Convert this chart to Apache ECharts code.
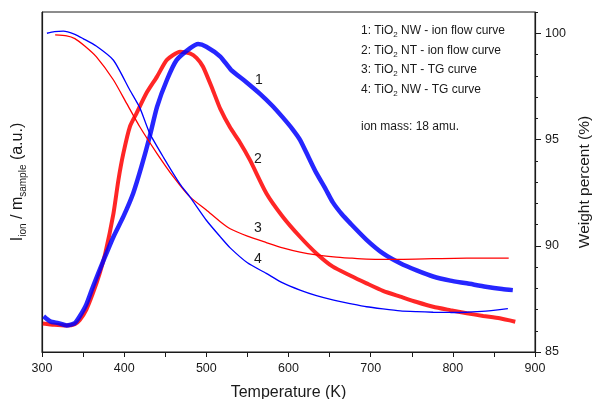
<!DOCTYPE html>
<html>
<head>
<meta charset="utf-8">
<script src="https://cdn.jsdelivr.net/npm/echarts@6/dist/echarts.min.js"></script>
<style>html,body{margin:0;padding:0;background:#fff}#c{width:592px;height:399px}</style>
</head>
<body>
<div id="c"></div>
<script>
// Ion flow curve 1: TiO2 NW (left axis, a.u.)
var tempIonNW = [302,310,320,330,340,346,354,362,375,387,399,411,421,431,440,452,464,480,490,500,517,530,548,565,580,593,605,614,625,634,645,654,665,675,695,715,736,756,776,797,817,840,860,873];
var ionNW     = [10.5,9,8.5,7.8,8.5,10.5,14,19.2,27,33.9,39.8,46.7,54.5,63.3,72.1,80,85.9,89.3,90.6,89.8,86.9,83,79.5,76,72.5,69,65.5,62.4,57,52.6,48,44,40.5,37.9,33,29,26.1,24,22.2,21,20.2,19.2,18.5,18.2];
// Ion flow curve 2: TiO2 NT (left axis, a.u.)
var tempIonNT = [301,315,330,340,346,354,362,370,377,387,393,399,407,415,427,440,452,468,480,488,496,508,517,529,540,553,573,593,614,634,654,675,695,715,736,756,776,797,817,837,857,876];
var ionNT     = [8.4,8,7.8,8.2,9.4,12.5,17.3,23,29,40.8,50.6,58.4,66.3,70.2,76.1,81,85.9,88.3,87.8,86.5,83.9,77,71.5,66,62,56.5,46.7,39.8,33.9,29,25.1,22.5,20.2,18,16.3,14.7,13.3,12.3,11.4,10.6,9.9,8.9];
// TG curve 3: TiO2 NT (right axis, %)
var tempTgNT = [316,330,340,352,366,387,403,419,440,460,480,500,517,529,550,573,593,614,634,655,675,695,736,776,817,868];
var tgNT     = [99.92,99.88,99.75,99.4,98.9,97.8,96.7,95.6,94.34,93.24,92.3,91.68,91.13,90.8,90.45,90.15,89.9,89.7,89.57,89.48,89.42,89.37,89.36,89.39,89.42,89.42];
// TG curve 4: TiO2 NW (right axis, %)
var tempTgNW = [306,315,326,340,350,366,387,407,419,431,448,468,480,500,517,529,550,573,593,614,634,655,675,695,715,736,756,776,797,817,840,867];
var tgNW     = [100.0,100.08,100.1,99.95,99.75,99.4,98.73,97.32,96.5,95.3,94.15,92.9,92.3,91.2,90.42,89.9,89.2,88.7,88.25,87.91,87.65,87.44,87.28,87.13,87.03,86.94,86.9,86.87,86.86,86.87,86.92,87.04];

var xTicks = [300,400,500,600,700,800,900];
var yRightMajor = [85,90,95,100];
var yRightMinor = [86,87,88,89,91,92,93,94,96,97,98,99,101];

var legendLines = [
  ['1: TiO','2',' NW - ion flow curve'],
  ['2: TiO','2',' NT - ion flow curve'],
  ['3: TiO','2',' NT - TG curve'],
  ['4: TiO','2',' NW - TG curve']
];
var ionMassText = 'ion mass: 18 amu.';
var curveLabels = ['1','2','3','4'];

function pairs(xs, ys){ return xs.map(function(x,i){ return [x, ys[i]]; }); }

var FONT = '"Liberation Sans", Arial, sans-serif';
var INK = '#1a1a1a';
var BLUE = '#0000ff';
var RED = '#ff0000';

var chart = echarts.init(document.getElementById('c'), null, {renderer:'canvas'});

var graphics = [];
var legendY = [33, 52.5, 72, 91.5];
legendLines.forEach(function(l, i){
  graphics.push({
    type:'text', left: 361, top: legendY[i] - 8, z: 100,
    style:{
      text: '{m|' + l[0] + '}{s|' + l[1] + '}{m|' + l[2] + '}',
      rich:{
        m:{fontSize:12, fontFamily:FONT, fill:INK, lineHeight:16, verticalAlign:'middle'},
        s:{fontSize:8, fontFamily:FONT, fill:INK, lineHeight:8, verticalAlign:'bottom'}
      }
    }
  });
});
graphics.push({type:'text', left:361, top:121, z:100, style:{text: ionMassText, fontSize:12, fontFamily:FONT, fill:INK}});
var lblPos = [[255,73],[254,152],[254,221],[254,252]];
curveLabels.forEach(function(t,i){
  graphics.push({type:'text', left: lblPos[i][0], top: lblPos[i][1], z:100, style:{text:t, fontSize:14, fontFamily:FONT, fill:INK}});
});

var option = {
  animation:false,
  backgroundColor:'#fff',
  grid:{left:42, right:57, top:12, bottom:47, show:true, borderColor:INK, borderWidth:1, outerBoundsMode:'none', containLabel:false},
  xAxis:{
    type:'value', min:300, max:900, interval:100,
    name:'Temperature (K)', nameLocation:'middle', nameGap:33,
    nameTextStyle:{fontSize:16, fontFamily:FONT, color:INK},
    axisLine:{show:true, lineStyle:{color:INK, width:1.2}},
    axisTick:{show:true, inside:false, length:5, lineStyle:{color:INK}},
    minorTick:{show:true, splitNumber:2, length:5, lineStyle:{color:INK}},
    axisLabel:{fontSize:12.5, fontFamily:FONT, color:INK, margin:10,
      customValues: xTicks},
    splitLine:{show:false}
  },
  yAxis:[
    {
      type:'value', min:0, max:100, position:'left',
      name:'{m|I}{s|ion}{m| / m}{s|sample}{m| (a.u.)}',
      nameLocation:'middle', nameRotate:90, nameGap:14,
      nameTextStyle:{
        rich:{
          m:{fontSize:16, fontFamily:FONT, color:INK, lineHeight:20, verticalAlign:'middle'},
          s:{fontSize:10, fontFamily:FONT, color:INK, lineHeight:10, verticalAlign:'bottom'}
        }
      },
      axisLine:{show:true, lineStyle:{color:INK, width:1.2}},
      axisTick:{show:false}, axisLabel:{show:false}, splitLine:{show:false}
    },
    {
      type:'value', min:85, max:101, position:'right',
      name:'Weight percent (%)', nameLocation:'middle', nameRotate:90, nameGap:40,
      nameTextStyle:{fontSize:15.5, fontFamily:FONT, color:INK},
      axisLine:{show:true, lineStyle:{color:INK, width:1.2}},
      axisTick:{show:true, length:6, customValues: yRightMajor, lineStyle:{color:INK}},
      axisLabel:{fontSize:12.5, fontFamily:FONT, color:INK, margin:10, customValues: yRightMajor},
      splitLine:{show:false}
    },
    {
      type:'value', min:85, max:101, position:'right',
      axisLine:{show:false},
      axisTick:{show:true, length:3, customValues: yRightMinor, lineStyle:{color:INK}},
      axisLabel:{show:false}, splitLine:{show:false}
    }
  ],
  series:[
    {type:'line', name:'2', yAxisIndex:0, data:pairs(tempIonNT, ionNT), showSymbol:false, smooth:0.2,
      lineStyle:{color:RED, width:4, opacity:0.85}, z:2},
    {type:'line', name:'1', yAxisIndex:0, data:pairs(tempIonNW, ionNW), showSymbol:false, smooth:0.2,
      lineStyle:{color:BLUE, width:4.5, opacity:0.85}, z:3},
    {type:'line', name:'3', yAxisIndex:1, data:pairs(tempTgNT, tgNT), showSymbol:false, smooth:0.2,
      lineStyle:{color:RED, width:1.3}, z:4},
    {type:'line', name:'4', yAxisIndex:1, data:pairs(tempTgNW, tgNW), showSymbol:false, smooth:0.2,
      lineStyle:{color:BLUE, width:1.3}, z:5}
  ],
  graphic: graphics
};
chart.setOption(option);
</script>
</body>
</html>
